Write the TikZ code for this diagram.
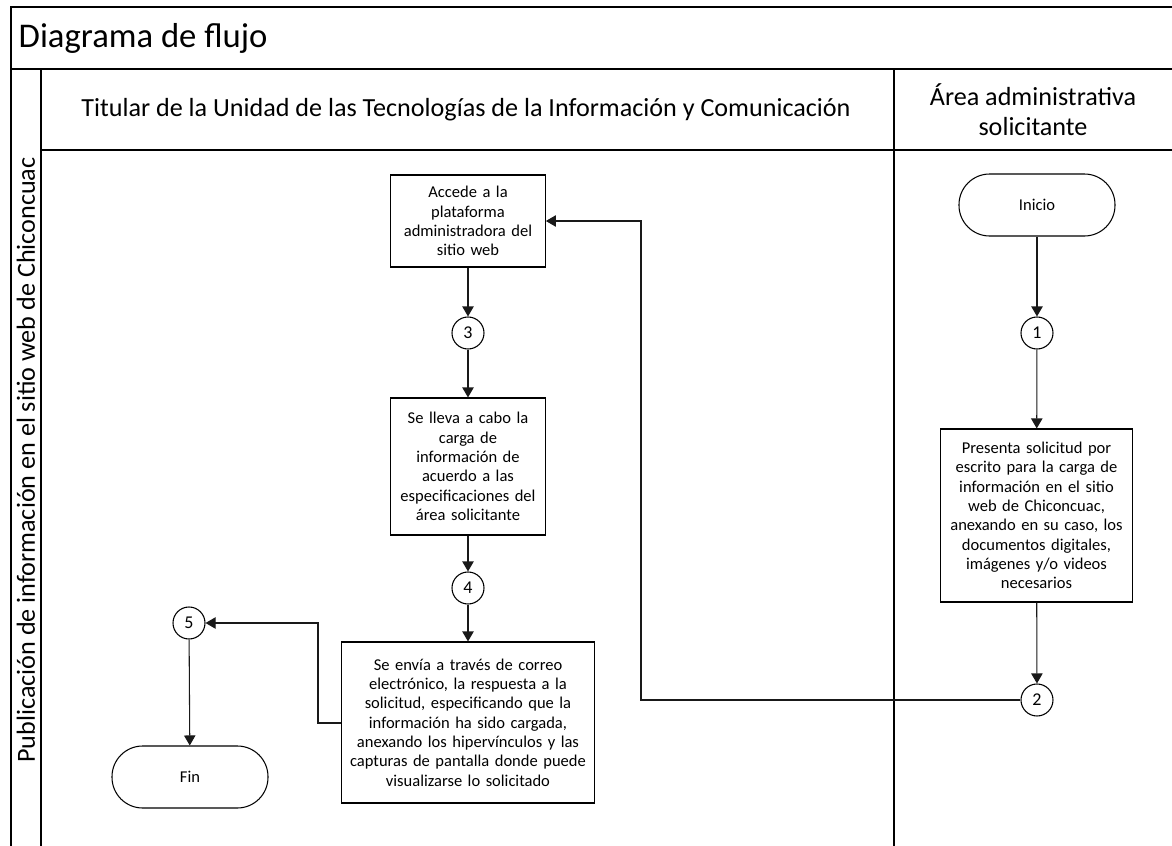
\documentclass[tikz,border=0pt]{standalone}
\usepackage{fontspec}
\setmainfont{Carlito}
\usetikzlibrary{arrows.meta}
\begin{document}
\begin{tikzpicture}[x=0.75pt,y=-0.75pt,
  frame/.style={line width=1.3pt,black},
  procbox/.style={draw,line width=0.8pt,align=center,inner sep=1pt,
    font=\fontsize{12.4}{14.5}\selectfont},
  term/.style={draw,line width=0.8pt,rounded corners=23pt,minimum width=117pt,minimum height=46.5pt,
    font=\fontsize{12.4}{14.5}\selectfont},
  conn/.style={draw,circle,line width=0.8pt,minimum size=24pt,inner sep=0pt,
    font=\fontsize{13.5}{16}\selectfont},
  flow/.style={draw=black!90,line width=0.8pt,-{Triangle[length=7.5pt,width=8.5pt]}},
  hdr/.style={font=\fontsize{19.6}{22.5}\selectfont,align=center}
]
\useasboundingbox (0,0) rectangle (1172,846);
% frame
\draw[frame] (11,846) -- (11,7) -- (1172,7);
\draw[frame] (11,69) -- (1172,69);
\draw[frame] (41,69) -- (41,846);
\draw[frame] (41,150) -- (1172,150);
\draw[frame] (894,69) -- (894,846);
\node[anchor=west,font=\fontsize{26}{30}\selectfont] (title) at (14,38) {Diagrama de flujo};
\node[hdr] (h1) at (466,110) {Titular de la Unidad de las Tecnologías de la Información y Comunicación};
\node[hdr] (h2) at (1033,110) {Área administrativa\\solicitante};
\node[hdr,rotate=90] (pool) at (26,460) {Publicación de información en el sitio web de Chiconcuac};
% nodes
\node[procbox,text width=114pt,minimum height=69pt] (accede) at (468,221) {Accede a la\\plataforma\\administradora del\\sitio web};
\node[conn] (c3) at (468,333) {3};
\node[procbox,text width=114pt,minimum height=102.75pt] (lleva) at (468,466.5) {Se lleva a cabo la\\carga de\\información de\\acuerdo a las\\especificaciones del\\área solicitante};
\node[conn] (c4) at (468,588) {4};
\node[procbox,text width=188pt,minimum height=120.75pt] (envia) at (468,722.5) {Se envía a través de correo\\electrónico, la respuesta a la\\solicitud, especificando que la\\información ha sido cargada,\\anexando los hipervínculos y las\\capturas de pantalla donde puede\\visualizarse lo solicitado};
\node[conn] (c5) at (189,623) {5};
\node[term] (fin) at (190,777) {Fin};
\node[term] (inicio) at (1037,205) {Inicio};
\node[conn] (c1) at (1037,333) {1};
\node[procbox,text width=142pt,minimum height=129.75pt] (presenta) at (1036.5,515.5) {Presenta solicitud por\\escrito para la carga de\\información en el sitio\\web de Chiconcuac,\\anexando en su caso, los\\documentos digitales,\\imágenes y/o videos\\necesarios};
\node[conn] (c2) at (1037,700) {2};
\coordinate (k1) at (641,700);
\coordinate (k2) at (641,221);
\coordinate (k3) at (318,723);
\coordinate (k4) at (318,623);
% connectors
\draw[flow] (inicio) -- (c1);
\draw[flow] (c1) -- (presenta);
\draw[flow] (presenta) -- (c2);
\draw[flow] (c2.west) -- (k1) -- (k2) -- (accede.east);
\draw[flow] (accede) -- (c3);
\draw[flow] (c3) -- (lleva);
\draw[flow] (lleva) -- (c4);
\draw[flow] (c4) -- (envia);
\draw[flow] (envia.west |- k3) -- (k3) -- (k4) -- (c5.east);
\draw[flow] (c5) -- (fin);
\end{tikzpicture}
\end{document}
